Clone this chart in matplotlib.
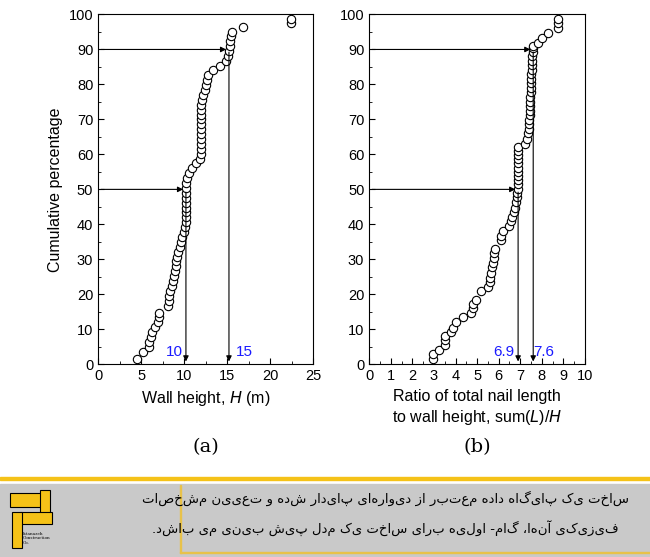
import matplotlib
matplotlib.use("Agg")
import matplotlib.pyplot as plt
from matplotlib.patches import Rectangle

h_x = [4.5,5.2,5.9,5.9,6.1,6.3,6.6,7.0,7.1,7.1,8.1,8.2,8.2,8.4,8.6,8.7,8.8,8.9,9.0,9.1,9.2,9.3,9.5,9.6,9.8,10.0,10.1,10.2,10.2,10.2,10.2,10.2,10.2,10.2,10.2,10.2,10.3,10.6,10.9,11.4,11.8,11.9,11.9,11.9,11.9,11.9,11.9,11.9,11.9,12.0,12.0,12.0,12.1,12.2,12.4,12.5,12.6,12.8,13.4,14.2,14.8,15.1,15.2,15.3,15.3,15.4,15.5,16.8,22.4,22.4]
h_y = [1.4,3.6,5.0,6.4,7.8,9.2,10.6,12.0,13.4,14.8,16.8,18.2,19.6,21.0,22.4,23.8,25.2,26.6,28.0,29.4,30.8,32.2,33.6,35.0,36.4,37.8,39.2,40.6,42.0,43.4,44.8,46.2,47.6,49.0,50.4,51.8,53.2,54.6,56.0,57.4,58.8,60.2,61.6,63.0,64.4,65.8,67.2,68.6,70.0,71.4,72.8,74.2,75.6,77.0,78.4,79.8,81.2,82.6,84.0,85.4,86.8,88.2,89.6,91.0,92.4,93.8,95.0,96.4,97.5,98.8]
r_x = [2.96,2.96,3.24,3.5,3.5,3.5,3.8,3.9,4.0,4.35,4.7,4.8,4.8,4.95,5.2,5.5,5.6,5.6,5.65,5.7,5.75,5.8,5.8,5.85,6.1,6.1,6.2,6.5,6.55,6.6,6.7,6.75,6.8,6.85,6.85,6.9,6.9,6.9,6.9,6.9,6.9,6.9,6.9,6.9,6.9,6.9,7.2,7.3,7.35,7.4,7.4,7.4,7.45,7.45,7.45,7.45,7.45,7.5,7.5,7.5,7.5,7.5,7.55,7.55,7.55,7.55,7.6,7.6,7.6,7.8,8.0,8.3,8.75,8.75,8.75]
r_y = [1.4,2.9,4.0,5.4,7.0,8.2,9.3,10.5,12.0,13.4,14.6,16.0,17.2,18.4,21.0,22.2,23.6,24.8,26.0,27.7,29.0,30.5,31.8,33.0,35.5,36.8,38.2,39.6,41.0,42.2,43.4,44.8,46.3,47.7,49.0,50.2,51.4,52.6,53.8,55.0,56.2,57.4,58.6,59.8,61.0,62.2,63.0,64.4,66.0,67.3,68.6,69.9,71.2,72.5,73.8,75.1,76.4,77.7,79.0,80.3,81.6,82.9,84.2,85.5,86.8,88.0,89.2,90.4,91.0,91.8,93.3,94.8,96.2,97.6,98.8]

fig = plt.figure(figsize=(6.5, 5.57), dpi=100)
fig.patch.set_facecolor("white")
plt.rcParams['font.family'] = ['Liberation Sans', 'DejaVu Sans']

def panel(rect, xs, ys, xmax, xstep, xminor, marks, labels, xlabel, tag):
    ax = fig.add_axes(rect)
    ax.plot(xs, ys, 'o', mfc='white', mec='black', ms=6, mew=0.8, clip_on=False, zorder=3)
    ax.set_xlim(0, xmax); ax.set_ylim(0, 100)
    ax.set_xticks(range(0, xmax + 1, xstep))
    ax.set_xticks([v * xminor for v in range(int(xmax / xminor) + 1)], minor=True)
    ax.set_yticks(range(0, 101, 10)); ax.set_yticks(range(5, 100, 10), minor=True)
    ax.tick_params(direction='in', which='both', labelsize=10.5)
    ax.tick_params(which='major', length=4); ax.tick_params(which='minor', length=2)
    ax.set_xlabel(xlabel, fontsize=11.5, linespacing=1.3)
    for (xv, yv), (lab, lx) in zip(marks, labels):
        ax.annotate('', xy=(xv, yv), xytext=(0, yv),
                    arrowprops=dict(arrowstyle='-|>', color='black', lw=0.8, mutation_scale=8))
        ax.annotate('', xy=(xv, 0), xytext=(xv, yv),
                    arrowprops=dict(arrowstyle='-|>', color='black', lw=0.8, mutation_scale=8))
        ax.text(lx, 2.5, lab, color='#1a1aff', fontsize=11, ha='center')
    ax.text(0.5, -0.25, tag, transform=ax.transAxes, ha='center', fontsize=14, family='DejaVu Serif')
    return ax

axl = panel([0.151, 0.346, 0.331, 0.628], h_x, h_y, 25, 5, 2.5,
            [(15.2, 90), (10.2, 50)], [('15', 17.0), ('10', 8.8)],
            'Wall height, $H$ (m)', '(a)')
axl.set_ylabel('Cumulative percentage', fontsize=11.5)
axr = panel([0.568, 0.346, 0.332, 0.628], r_x, r_y, 10, 1, 0.5,
            [(7.6, 90), (6.9, 50)], [('7.6', 8.1), ('6.9', 6.25)],
            'Ratio of total nail length\nto wall height, sum($L$)/$H$', '(b)')

# bottom banner
fig.patches.append(Rectangle((0, 1 - 480 / 557), 1, 3 / 557, transform=fig.transFigure, color='#f5c218'))
fig.patches.append(Rectangle((0, 0), 1, 1 - 484 / 557, transform=fig.transFigure, color='#c9c9c9'))
fig.patches.append(Rectangle((180 / 650, 1 - 553 / 557), 1 / 650, 68 / 557, transform=fig.transFigure, color='#e8c24a'))
fig.patches.append(Rectangle((180 / 650, 1 - 553 / 557), 470 / 650, 1 / 557, transform=fig.transFigure, color='#e8c24a'))
for (x, y, w, h) in [(10, 493, 38, 14), (40, 490, 10, 26), (20, 512, 32, 12), (12, 512, 10, 36)]:
    fig.patches.append(Rectangle((x / 650, 1 - (y + h) / 557), w / 650, h / 557, transform=fig.transFigure,
                                 facecolor='#f5c218', edgecolor='black', lw=0.8))
fig.text(23 / 650, 1 - 545 / 557, 'Istanazeh\nConstruction\nCo.', fontsize=3, family='DejaVu Serif', va='bottom')
t1 = 'ساخت یک پایگاه داده معتبر از دیوارهای پایدار شده و تعیین مشخصات'
t2 = 'فیزیکی آنها، گام- اولیه برای ساخت یک مدل پیش بینی می باشد.'
fig.text(385 / 650, 1 - 498 / 557, t1[::-1], ha='center', va='center', fontsize=9.5, family='DejaVu Sans')
fig.text(385 / 650, 1 - 528 / 557, t2[::-1], ha='center', va='center', fontsize=9.5, family='DejaVu Sans')

fig.savefig('out.png', dpi=100)
